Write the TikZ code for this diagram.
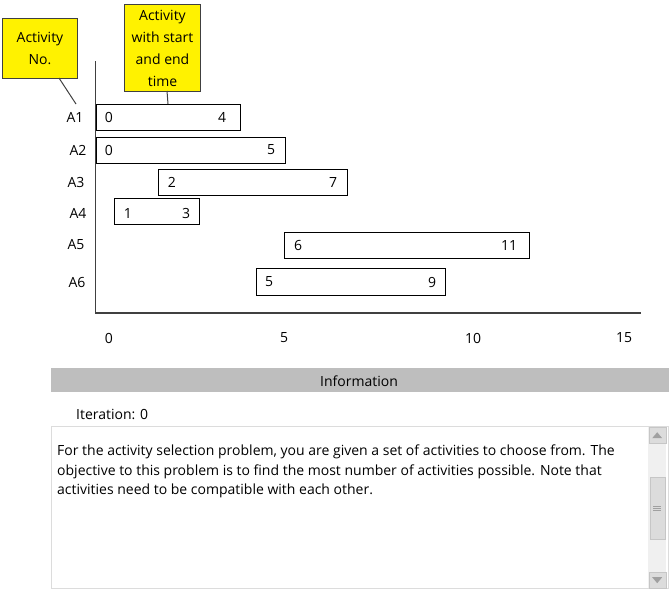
\documentclass[tikz,border=0pt]{standalone}
\usepackage{fontspec}
\setmainfont{Open Sans}
\definecolor{infogray}{HTML}{BEBEBE}
\definecolor{boxgray}{HTML}{DCDCDC}
\definecolor{sbgray}{HTML}{F0F0F0}
\definecolor{sbdark}{HTML}{A0A0A0}
\definecolor{axisgray}{HTML}{404040}
\tikzset{
  bar/.style={draw=black, line width=1pt, fill=white, anchor=north west, inner sep=0pt},
  num/.style={font=\fontsize{14}{16}\selectfont, inner sep=0pt, anchor=center},
  callout/.style={draw=axisgray, fill=yellow, line width=1pt, anchor=north west, inner sep=0pt, align=center, font=\fontsize{14}{22}\selectfont},
  body/.style={font=\fontsize{14}{19.5}\selectfont, inner sep=0pt, anchor=north west, align=left},
}
\begin{document}
\begin{tikzpicture}[x=1pt,y=-1pt]
\useasboundingbox (0,0) rectangle (669,590);
% axes
\coordinate (ytop) at (95.5,61);
\coordinate (orig) at (95.5,313);
\coordinate (xend) at (641,313);
\draw[axisgray, line width=1.2pt] (ytop) -- (orig) -- (xend);
% bars
\node[bar, minimum width=144pt, minimum height=26pt] (b1) at (95.5,104) {};
\node[bar, minimum width=189pt, minimum height=26pt] (b2) at (95.5,137) {};
\node[bar, minimum width=189pt, minimum height=26pt] (b3) at (158,169) {};
\node[bar, minimum width=85pt, minimum height=26pt] (b4) at (114,198) {};
\node[bar, minimum width=245pt, minimum height=26pt] (b5) at (284,232) {};
\node[bar, minimum width=189pt, minimum height=27pt] (b6) at (256,268) {};
% bar numbers
\node[num] (s1) at (109,117) {0};  \node[num] (e1) at (222,117) {4};
\node[num] (s2) at (109,150) {0};  \node[num] (e2) at (271,150) {5};
\node[num] (s3) at (172,182) {2};  \node[num] (e3) at (333,182) {7};
\node[num] (s4) at (128,213) {1};  \node[num] (e4) at (186,213) {3};
\node[num] (s5) at (298,245) {6};  \node[num] (e5) at (509,245) {11};
\node[num] (s6) at (269,282) {5};  \node[num] (e6) at (432,282) {9};
% row labels
\node[num] (l1) at (75,117) {A1};
\node[num] (l2) at (78,150) {A2};
\node[num] (l3) at (76,182) {A3};
\node[num] (l4) at (78,213) {A4};
\node[num] (l5) at (76,245) {A5};
\node[num] (l6) at (77,282) {A6};
% x tick labels
\node[num] (t0) at (109,338) {0};
\node[num] (t5) at (284,338) {5};
\node[num] (t10) at (473,338) {10};
\node[num] (t15) at (624,338) {15};
% callouts
\node[callout, minimum width=75pt, minimum height=60pt] (c1) at (2,18) {Activity\\No.};
\node[callout, minimum width=76pt, minimum height=87pt] (c2) at (124,4) {Activity\\with start\\and end\\time};
\coordinate (p1a) at (59,78);
\coordinate (p1) at (76,104);
\draw[axisgray, line width=1pt] (p1a) -- (p1);
\coordinate (p2a) at (167,91);
\coordinate (p2) at (168,104);
\draw[axisgray, line width=1pt] (p2a) -- (p2);
% information bar
\node[fill=infogray, minimum width=618pt, minimum height=24pt, anchor=north west, inner sep=0pt] (info) at (51,368) {};
\node[num] (infot) at (359,381) {Information};
\node[num, anchor=west] (iter) at (76,414) {Iteration: 0};
% text box
\node[draw=boxgray, line width=1pt, minimum width=617pt, minimum height=162pt, anchor=north west, inner sep=0pt] (tbox) at (51,426) {};
\node[body] (txt) at (57,445) {For the activity selection problem, you are given a set of activities to choose from. The\\objective to this problem is to find the most number of activities possible. Note that\\activities need to be compatible with each other.};
% scrollbar
\node[fill=sbgray, minimum width=18pt, minimum height=161pt, anchor=north west, inner sep=0pt] (sb) at (648,427) {};
\node[draw=sbdark!60, fill=boxgray, minimum width=17pt, minimum height=16pt, anchor=north west, inner sep=0pt] (up) at (648.5,427) {};
\node[draw=sbdark!60, fill=boxgray, minimum width=17pt, minimum height=16pt, anchor=north west, inner sep=0pt] (down) at (648.5,572) {};
\node[draw=sbdark!60, fill=boxgray, minimum width=15pt, minimum height=62pt, anchor=north west, inner sep=0pt] (thumb) at (649.5,477) {};
\fill[sbdark] ([yshift=-3pt]up.center) -- ++(-5,0) -- ++(5,-6) -- ++(5,6) -- cycle;
\fill[sbdark] ([yshift=3pt]down.center) -- ++(-5,0) -- ++(5,6) -- ++(5,-6) -- cycle;
\draw[sbdark] ([yshift=-2pt]thumb.center) ++(-4,0) -- ++(8,0);
\draw[sbdark] (thumb.center) ++(-4,0) -- ++(8,0);
\draw[sbdark] ([yshift=2pt]thumb.center) ++(-4,0) -- ++(8,0);
\end{tikzpicture}
\end{document}
